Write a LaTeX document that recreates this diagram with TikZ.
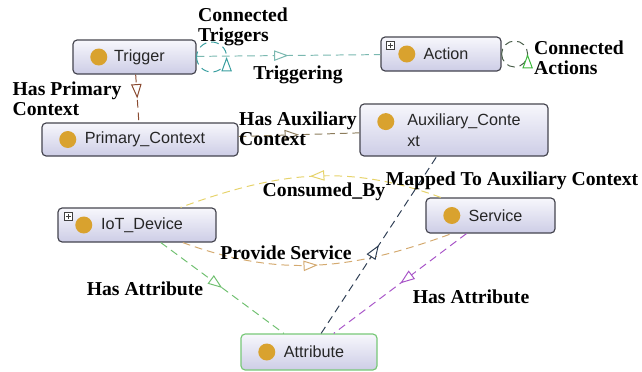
\documentclass[tikz,border=0pt]{standalone}
\usepackage{fontspec}
\setmainfont{Liberation Serif}
\newfontfamily\clsfont{Liberation Sans}
\usetikzlibrary{arrows.meta,decorations.markings}
\definecolor{boxc}{HTML}{45454F}
\definecolor{boxtop}{HTML}{F7F7FC}
\definecolor{boxbot}{HTML}{CDCDE6}
\definecolor{attrc}{HTML}{78C878}
\definecolor{dotc}{HTML}{D9A22E}
\definecolor{trgc}{HTML}{7AB8B0}
\definecolor{ctrgc}{HTML}{3A9FA0}
\definecolor{cactc}{HTML}{4A5E4A}
\definecolor{cactarr}{HTML}{3CB83C}
\definecolor{hpcc}{HTML}{8A4A30}
\definecolor{hacc}{HTML}{8C7C5C}
\definecolor{consc}{HTML}{E6D36A}
\definecolor{provc}{HTML}{D4AA70}
\definecolor{hat1c}{HTML}{70C070}
\definecolor{hat2c}{HTML}{A855C8}
\definecolor{mapc}{HTML}{2F3F55}
\tikzstyle{cls}=[draw=boxc,line width=0.85pt,rounded corners=3pt,top color=boxtop,bottom color=boxbot,
  font=\clsfont\fontsize{11.5}{15}\selectfont,text=black!85,inner sep=2pt,
  execute at begin node={\hspace*{0.25cm}}]
\tikzstyle{plusbox}=[draw=black!75,fill=white,line width=0.5pt,minimum size=0.2cm,inner sep=0pt,
  path picture={\draw[line width=0.6pt] ([xshift=1pt]path picture bounding box.west) -- ([xshift=-1pt]path picture bounding box.east)
    ([yshift=1pt]path picture bounding box.south) -- ([yshift=-1pt]path picture bounding box.north);}]
\tikzstyle{lbl}=[font=\fontsize{14}{14.5}\selectfont\bfseries,align=left,inner sep=0pt]
\tikzstyle{lnk}=[dash pattern=on 5.5pt off 3.5pt,line width=0.7pt]
\tikzset{mtip/.style={postaction={decorate,decoration={markings,mark=at position 0.5 with
  {\arrow[#1]{Triangle[fill=white,length=0.36cm,width=0.26cm]}}}}},mtip/.default=solid}

\begin{document}
\begin{tikzpicture}[x=0.025cm,y=0.025cm]
\useasboundingbox (0,0) rectangle (642,371);
% classes
\node[cls,minimum width=3.075cm,minimum height=0.85cm] (trigger) at (134.5,314) {Trigger};
\node[cls,minimum width=3cm,minimum height=0.85cm] (action) at (441,317) {Action};
\node[cls,minimum width=4.9cm,minimum height=0.825cm] (primary) at (140,231.5) {Primary\_Context};
\node[cls,minimum width=4.7cm,minimum height=1.3cm,align=left,execute at begin node={}] (aux) at (454,241)
  {\hspace*{0.25cm}Auxiliary\_Conte\\\hspace*{0.25cm}xt};
\node[cls,minimum width=3.95cm,minimum height=0.85cm] (iot) at (137,146) {IoT\_Device};
\node[cls,minimum width=3.225cm,minimum height=0.875cm] (service) at (490.5,155.5) {Service};
\node[cls,draw=attrc,minimum width=3.4cm,minimum height=0.9cm] (attr) at (309,19) {Attribute};
\foreach \n in {trigger,action,primary,iot,service,attr}
  \fill[dotc] ([xshift=0.66cm]\n.west) circle (8.5);
\fill[dotc] ([xshift=0.66cm,yshift=0.21cm]aux.west) circle (8.5);
\node[plusbox,anchor=north west] (actplus) at ([xshift=0.15cm,yshift=-0.12cm]action.north west) {};
\node[plusbox,anchor=north west] (iotplus) at ([xshift=0.17cm,yshift=-0.12cm]iot.north west) {};

% properties
\draw[lnk,draw=trgc,mtip] (trigger) -- (action);
\draw[lnk,draw=ctrgc,mtip] (trigger.east) arc[start angle=-180,end angle=180,radius=15];
\draw[lnk,draw=cactc,mtip=cactarr] (action.east) arc[start angle=-180,end angle=180,radius=13];
\draw[lnk,draw=hpcc,mtip] (trigger) -- (primary);
\draw[lnk,draw=hacc,mtip] (primary) -- (aux);
\draw[lnk,draw=consc,mtip] (service.160) to[out=160,in=20] (iot.22);
\draw[lnk,draw=provc,mtip] (iot.-21) to[out=-20,in=-160] (service.205);
\draw[lnk,draw=hat1c,mtip] (iot) -- (attr);
\draw[lnk,draw=hat2c,mtip] (service) -- (attr);
\draw[lnk,draw=mapc,mtip] (attr) -- (aux);

% labels
\node[lbl] (ctrglbl) at (243,344) {Connected\\Triggers};
\node[lbl] (trglbl) at (298,296) {Triggering};
\node[lbl] (cactlbl) at (579,313) {Connected\\Actions};
\node[lbl] (hpclbl) at (67,272) {Has Primary\\Context};
\node[lbl] (haclbl) at (298,242) {Has Auxiliary\\Context};
\node[lbl] (conslbl) at (324,179) {Consumed\_By};
\node[lbl] (maplbl) at (512,190) {Mapped To Auxiliary Context};
\node[lbl] (provlbl) at (286,118) {Provide Service};
\node[lbl] (hat1lbl) at (145,82) {Has Attribute};
\node[lbl] (hat2lbl) at (471,74) {Has Attribute};
\end{tikzpicture}
\end{document}
